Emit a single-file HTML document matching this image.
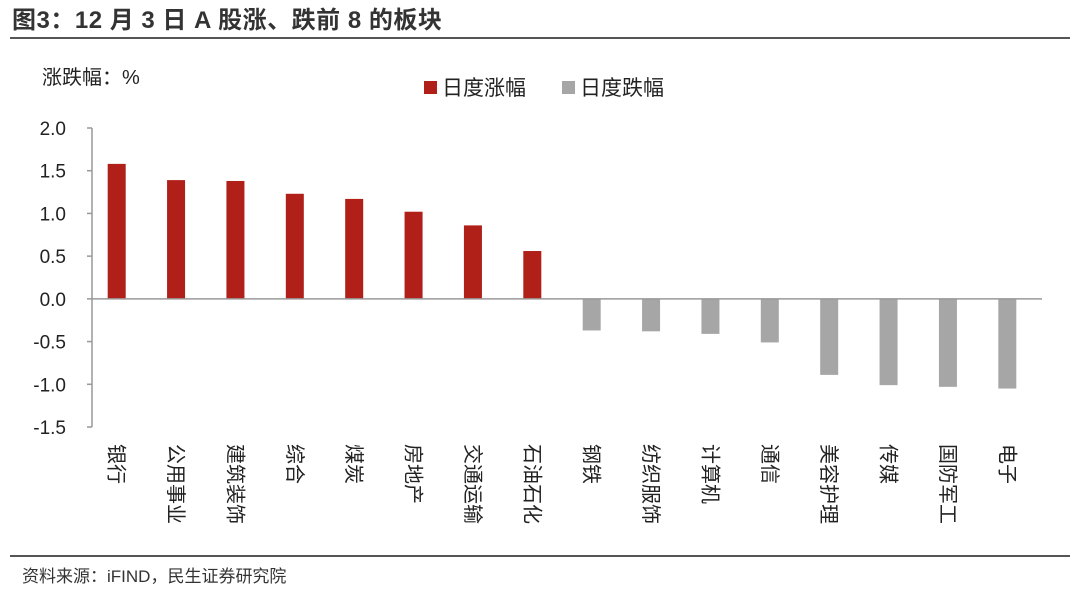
<!DOCTYPE html>
<html><head><meta charset="utf-8"><style>
body{margin:0;width:1080px;height:589px;background:#fff;overflow:hidden;font-family:"Liberation Sans","Noto Sans CJK SC",sans-serif;}
</style></head><body>
<svg width="1080" height="589" xmlns="http://www.w3.org/2000/svg" font-family="Liberation Sans, Noto Sans CJK SC, sans-serif">
<text x="12" y="28" font-size="24" font-weight="bold" fill="#333" letter-spacing="0.5">图3：12 月 3 日 A 股涨、跌前 8 的板块</text>
<line x1="10" y1="38" x2="1070" y2="38" stroke="#555" stroke-width="2"/>
<text x="42" y="84" font-size="20" fill="#222">涨跌幅：%</text>
<g>
<rect x="424" y="81" width="13" height="13" fill="#B01F18"/>
<text x="442" y="95" font-size="21" fill="#222">日度涨幅</text>
<rect x="562" y="81" width="13" height="13" fill="#A6A6A6"/>
<text x="580" y="95" font-size="21" fill="#222">日度跌幅</text>
</g>
<g id="plot"></g>
<line x1="10" y1="556" x2="1070" y2="556" stroke="#555" stroke-width="2"/>
<text x="22" y="582" font-size="17" fill="#333">资料来源：iFIND，民生证券研究院</text>
</svg>
<script>
const categories=["银行","公用事业","建筑装饰","综合","煤炭","房地产","交通运输","石油石化","钢铁","纺织服饰","计算机","通信","美容护理","传媒","国防军工","电子"];
const values=[1.58,1.39,1.38,1.23,1.17,1.02,0.86,0.56,-0.37,-0.38,-0.41,-0.51,-0.89,-1.01,-1.03,-1.05];
const yTicks=[2.0,1.5,1.0,0.5,0.0,-0.5,-1.0,-1.5];
const NS="http://www.w3.org/2000/svg";
const g=document.getElementById('plot');
const yMin=-1.5,yMax=2.0,yTop=128,yBot=427,xL=92,xR=1042;
const y=v=>yTop+(yMax-v)/(yMax-yMin)*(yBot-yTop);
const step=(xR-xL)/categories.length;
const x=i=>xL+step*(i+0.5)-5;
function mk(t,a){const e=document.createElementNS(NS,t);for(const k in a)e.setAttribute(k,a[k]);g.appendChild(e);return e;}
const ax=mk('line',{x1:xL,y1:yTop,x2:xL,y2:yBot,stroke:'#999','stroke-width':1.5});


yTicks.forEach(t=>{
 const tk=mk('line',{x1:xL-5,y1:y(t),x2:xL,y2:y(t),stroke:'#999','stroke-width':1.5});
 
 
 const tl=mk('text',{x:xL-26,y:y(t)+7,'font-size':19,'text-anchor':'end',fill:'#222'});
 tl.textContent=t.toFixed(1);
 
 
});
values.forEach((v,i)=>{
 const b=mk('rect',{x:x(i)-9,y:Math.min(y(v),y(0)),width:18,height:Math.abs(y(v)-y(0)),fill:v>=0?'#B01F18':'#A6A6A6'});
 
 
 const lx=x(i)-7, ly=444;
 const l=mk('text',{x:lx,y:ly,'font-size':20,fill:'#222',transform:'rotate(90 '+lx+' '+ly+')'});
 l.textContent=categories[i];
 
 
});
const zx=mk('line',{x1:xL,y1:y(0),x2:xR,y2:y(0),stroke:'#999','stroke-width':1.5});


</script>
</body></html>
